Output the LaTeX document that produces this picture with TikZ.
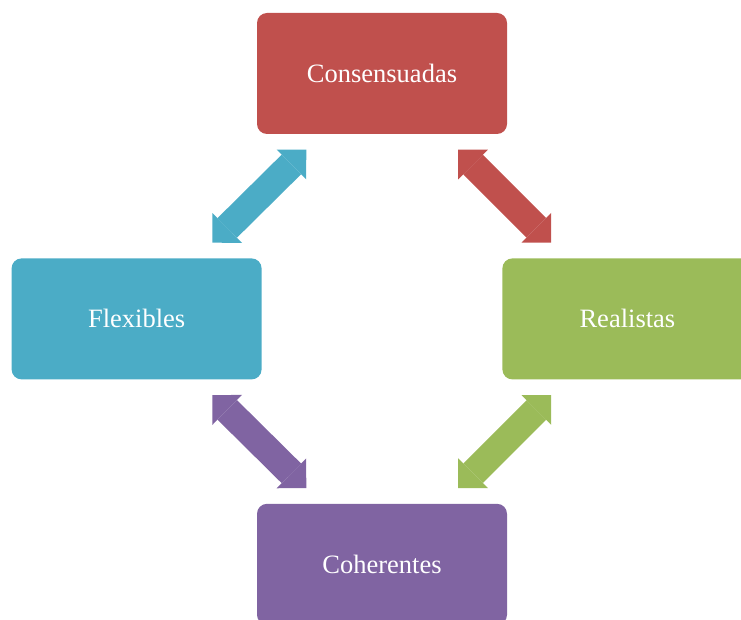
\documentclass[tikz,border=0pt]{standalone}
\usepackage{fontspec}
\setmainfont{Liberation Serif}
\usepackage{xcolor}
\usetikzlibrary{arrows.meta, positioning, calc}
\definecolor{cRed}{RGB}{192,80,77}
\definecolor{cBlue}{RGB}{75,172,198}
\definecolor{cGreen}{RGB}{155,187,89}
\definecolor{cPurple}{RGB}{128,100,162}
\tikzset{
	goalbox/.style ={rectangle, rounded corners=10pt, minimum width=250pt, minimum height=121pt, text centered, align=center, text=white, font=\fontsize{26.5}{30}\selectfont, inner sep=0pt},
	biarrow/.style ={line width=27.6pt, {Triangle[length=21pt, width=42pt, line width'=0pt]}-{Triangle[length=21pt, width=42pt, line width'=0pt]}},
}
\begin{document}
\begin{tikzpicture}[x=1pt, y=1pt]
			\useasboundingbox (0,0) rectangle (741,619);
			\node[goalbox, fill=cRed] (cons) at (382,545.5) {Consensuadas};
			\node[goalbox, fill=cBlue, below left=124pt and -5pt of cons] (flex) {Flexibles};
			\node[goalbox, fill=cGreen, below right=124pt and -5pt of cons] (real) {Realistas};
			\node[goalbox, fill=cPurple, below right=124pt and -5pt of flex] (coh) {Coherentes};
			% double arrows between neighbours
			\coordinate (mFC) at ($(flex.north east)!0.5!(cons.south west)$);
			\coordinate (mCR) at ($(cons.south east)!0.5!(real.north west)$);
			\coordinate (mRH) at ($(real.south west)!0.5!(coh.north east)$);
			\coordinate (mHF) at ($(coh.north west)!0.5!(flex.south east)$);
			\draw[biarrow, cBlue] ($(mFC)+(-47,-46.5)$) -- ($(mFC)+(47,46.5)$);
			\draw[biarrow, cRed] ($(mCR)+(-46.5,46.5)$) -- ($(mCR)+(46.5,-46.5)$);
			\draw[biarrow, cGreen] ($(mRH)+(46.5,46.5)$) -- ($(mRH)+(-46.5,-46.5)$);
			\draw[biarrow, cPurple] ($(mHF)+(47,-46.5)$) -- ($(mHF)+(-47,46.5)$);
		\end{tikzpicture}
\end{document}
